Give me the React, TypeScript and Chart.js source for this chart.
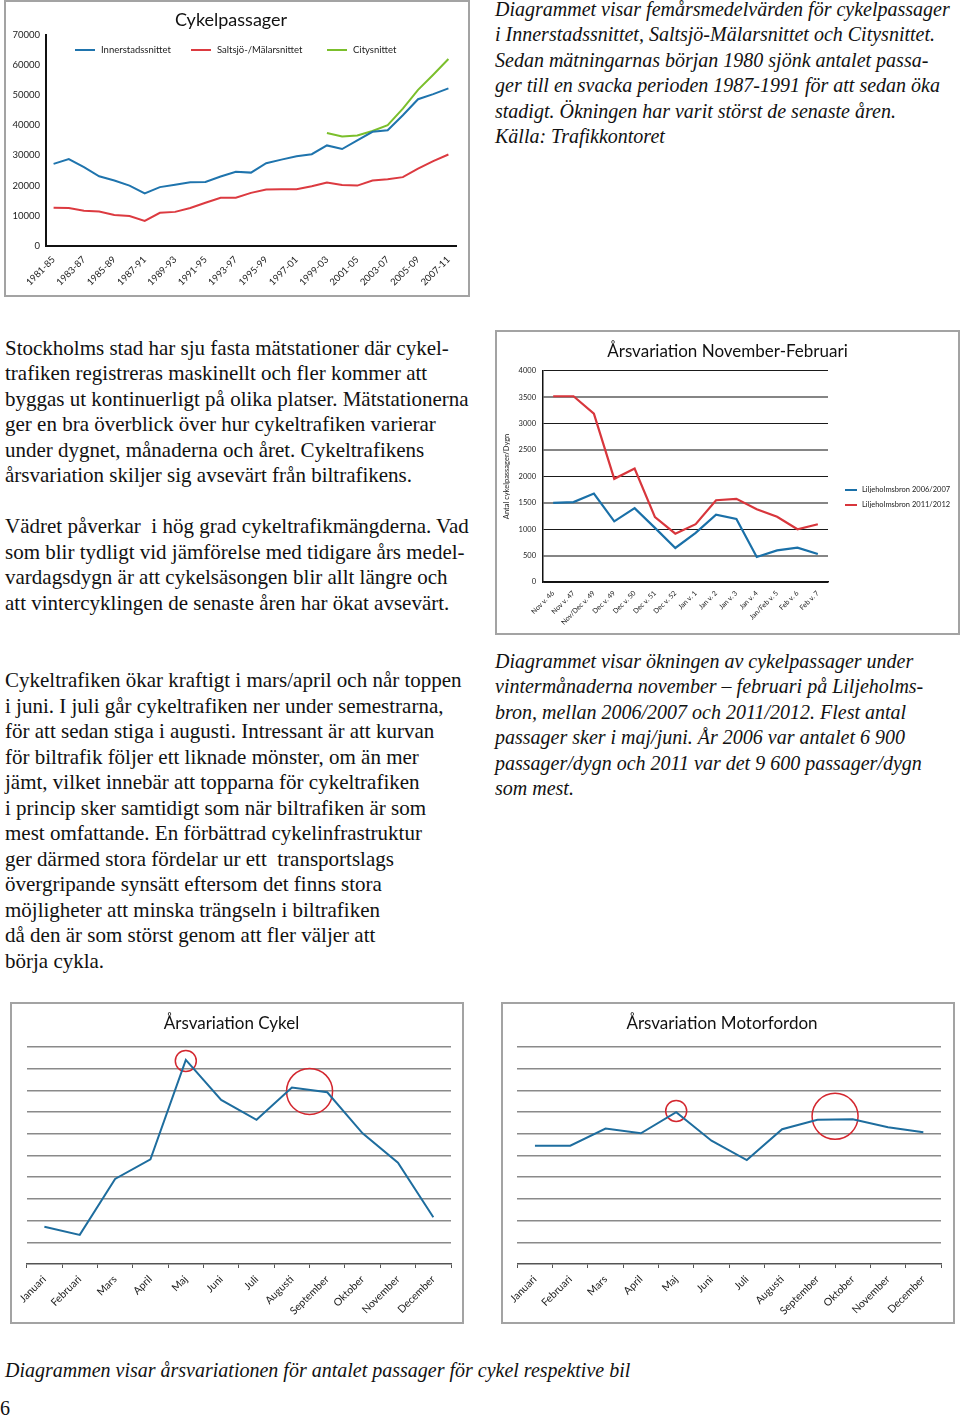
import React, { useEffect, useRef } from 'react';
import { Chart, registerables } from 'chart.js';
Chart.register(...registerables);

// ---------- DATA ----------
const periodLabels = ['1981-85', '1982-86', '1983-87', '1984-88', '1985-89', '1986-90', '1987-91', '1988-92', '1989-93', '1990-94', '1991-95', '1992-96', '1993-97', '1994-98', '1995-99', '1996-00', '1997-01', '1998-02', '1999-03', '2000-04', '2001-05', '2002-06', '2003-07', '2004-08', '2005-09', '2006-10', '2007-11'];
const innerstadValues = [27200, 28800, 26100, 23100, 21700, 20000, 17400, 19500, 20300, 21100, 21200, 23000, 24600, 24300, 27400, 28600, 29700, 30400, 33300, 32100, 35000, 37800, 38300, 43300, 48600, 50300, 52200];
const saltsjoValues = [12700, 12600, 11700, 11400, 10300, 9900, 8300, 11000, 11300, 12600, 14300, 16000, 16000, 17600, 18700, 18800, 18800, 19800, 21000, 20200, 20000, 21700, 22100, 22800, 25600, 28100, 30300];
const cityValues = [null, null, null, null, null, null, null, null, null, null, null, null, null, null, null, null, null, null, 37400, 36300, 36600, 38100, 40000, 45500, 51700, 56700, 61900];
const topYTicks = [0, 10000, 20000, 30000, 40000, 50000, 60000, 70000];

const weekLabels = ['Nov v. 46', 'Nov v. 47', 'Nov/Dec v. 49', 'Dec v. 49', 'Dec v. 50', 'Dec v. 51', 'Dec v. 52', 'Jan v. 1', 'Jan v. 2', 'Jan v. 3', 'Jan v. 4', 'Jan/Feb v. 5', 'Feb v. 6', 'Feb v. 7'];
const lilje0607 = [1500, 1515, 1675, 1150, 1400, 1025, 645, 930, 1275, 1195, 475, 600, 650, 530];
const lilje1112 = [3520, 3520, 3190, 1955, 2150, 1230, 915, 1095, 1550, 1575, 1380, 1235, 1000, 1095];

const monthLabels = ['Januari', 'Februari', 'Mars', 'April', 'Maj', 'Juni', 'Juli', 'Augusti', 'September', 'Oktober', 'November', 'December'];
const cykelValues = [1.72, 1.34, 3.92, 4.82, 9.4, 7.56, 6.64, 8.13, 7.91, 6.02, 4.67, 2.15];
const cykelMarkMonth = [4, 7.5];
const cykelMarkLevel = [9.35, 7.95];
const motorValues = [5.45, 5.45, 6.24, 6.02, 6.99, 5.68, 4.79, 6.21, 6.64, 6.67, 6.3, 6.07];
const motorMarkMonth = [4, 8.5];
const motorMarkLevel = [7.05, 6.8];

// ---------- TEXT ----------
const topRightLines = [
  'Diagrammet visar femårsmedelvärden för cykelpassager',
  'i Innerstadssnittet, Saltsjö-Mälarsnittet och Citysnittet.',
  'Sedan mätningarnas början 1980 sjönk antalet passa-',
  'ger till en svacka perioden 1987-1991 för att sedan öka',
  'stadigt. Ökningen har varit störst de senaste åren.',
  'Källa: Trafikkontoret',
];
const leftLinesA = [
  'Stockholms stad har sju fasta mätstationer där cykel-',
  'trafiken registreras maskinellt och fler kommer att',
  'byggas ut kontinuerligt på olika platser. Mätstationerna',
  'ger en bra överblick över hur cykeltrafiken varierar',
  'under dygnet, månaderna och året. Cykeltrafikens',
  'årsvariation skiljer sig avsevärt från biltrafikens.',
  '',
  'Vädret påverkar  i hög grad cykeltrafikmängderna. Vad',
  'som blir tydligt vid jämförelse med tidigare års medel-',
  'vardagsdygn är att cykelsäsongen blir allt längre och',
  'att vintercyklingen de senaste åren har ökat avsevärt.',
];
const leftLinesB = [
  'Cykeltrafiken ökar kraftigt i mars/april och når toppen',
  'i juni. I juli går cykeltrafiken ner under semestrarna,',
  'för att sedan stiga i augusti. Intressant är att kurvan',
  'för biltrafik följer ett liknade mönster, om än mer',
  'jämt, vilket innebär att topparna för cykeltrafiken',
  'i princip sker samtidigt som när biltrafiken är som',
  'mest omfattande. En förbättrad cykelinfrastruktur',
  'ger därmed stora fördelar ur ett  transportslags',
  'övergripande synsätt eftersom det finns stora',
  'möjligheter att minska trängseln i biltrafiken',
  'då den är som störst genom att fler väljer att',
  'börja cykla.',
];
const rightMidLines = [
  'Diagrammet visar ökningen av cykelpassager under',
  'vintermånaderna november – februari på Liljeholms-',
  'bron, mellan 2006/2007 och 2011/2012. Flest antal',
  'passager sker i maj/juni. År 2006 var antalet 6 900',
  'passager/dygn och 2011 var det 9 600 passager/dygn',
  'som mest.',
];
const captionText = 'Diagrammen visar årsvariationen för antalet passager för cykel respektive bil';
const pageNumber = '6';

// ---------- STYLE ----------
const SANS = 'Lato, "Open Sans", "DejaVu Sans", sans-serif';
const SERIF = '"Liberation Serif", "Times New Roman", serif';
const BLUE = '#1f74ad';
const RED = '#dc3a40';
const GREEN = '#7bbf2c';
const CIRCLE_RED = '#d3272f';
Chart.defaults.font.family = SANS;

const lineLegendPlugin = {
  id: 'lineLegend',
  afterDraw(chart: any, _args: any, opts: any) {
    if (!opts || !opts.items) return;
    const ctx = chart.ctx;
    ctx.save();
    ctx.font = opts.font;
    ctx.textBaseline = 'middle';
    ctx.textAlign = 'left';
    opts.items.forEach((it: any) => {
      const ds = chart.data.datasets[it.dataset];
      ctx.strokeStyle = ds.borderColor;
      ctx.lineWidth = opts.lineWidth;
      ctx.beginPath();
      ctx.moveTo(it.x, it.y);
      ctx.lineTo(it.x + opts.lineLength, it.y);
      ctx.stroke();
      ctx.fillStyle = opts.color;
      ctx.fillText(ds.label, it.x + opts.lineLength + opts.gap, it.y);
    });
    ctx.restore();
  },
};

function ChartFrame({ left, top, width, height, make }: { left: number; top: number; width: number; height: number; make: () => any }) {
  const ref = useRef<HTMLCanvasElement>(null);
  useEffect(() => {
    const chart = new Chart(ref.current as HTMLCanvasElement, make());
    return () => chart.destroy();
  }, []);
  return (
    <div style={{ position: 'absolute', left, top, width, height, boxSizing: 'border-box', border: '2px solid #a3a3a3', background: '#fff' }}>
      <canvas ref={ref} width={width - 4} height={height - 4} style={{ display: 'block', width: width - 4, height: height - 4 }} />
    </div>
  );
}

function topConfig() {
  return {
    type: 'line',
    data: {
      labels: periodLabels,
      datasets: [
        { label: 'Innerstadssnittet', data: innerstadValues, borderColor: BLUE, backgroundColor: BLUE, borderWidth: 2, pointRadius: 0, tension: 0 },
        { label: 'Saltsjö-/Mälarsnittet', data: saltsjoValues, borderColor: RED, backgroundColor: RED, borderWidth: 2, pointRadius: 0, tension: 0 },
        { label: 'Citysnittet', data: cityValues, borderColor: GREEN, backgroundColor: GREEN, borderWidth: 2, pointRadius: 0, tension: 0 },
      ],
    },
    options: {
      animation: false,
      responsive: false,
      events: [],
      layout: { padding: { left: 0, right: 12, top: 0, bottom: 0 } },
      plugins: {
        legend: { display: false },
        tooltip: { enabled: false },
        title: { display: true, text: 'Cykelpassager', color: '#111', font: { size: 18, weight: 'normal' }, padding: { top: 7, bottom: 4 } },
        lineLegend: {
          font: `9.5px ${SANS}`, color: '#222', lineWidth: 2, lineLength: 20, gap: 6,
          items: [{ dataset: 0, x: 69, y: 48 }, { dataset: 1, x: 185, y: 48 }, { dataset: 2, x: 321, y: 48 }],
        },
      },
      scales: {
        x: {
          offset: true,
          grid: { display: false, drawTicks: false },
          border: { display: true, color: '#111', width: 2 },
          ticks: { autoSkip: false, minRotation: 45, maxRotation: 45, font: { size: 9.5 }, color: '#222', padding: 8, callback: (_v: any, i: number) => (i % 2 === 0 ? periodLabels[i] : '') },
          afterFit: (s: any) => { s.height = 49; },
        },
        y: {
          min: 0, max: 70000,
          afterBuildTicks: (s: any) => { s.ticks = topYTicks.map((v) => ({ value: v })); },
          grid: { display: false, drawTicks: false },
          border: { display: true, color: '#111', width: 2 },
          ticks: { font: { size: 9.5 }, color: '#222', padding: 6, callback: (v: any) => String(v) },
          afterFit: (s: any) => { s.width = 40; },
        },
      },
    },
    plugins: [lineLegendPlugin],
  };
}

function winterConfig() {
  return {
    type: 'line',
    data: {
      labels: weekLabels,
      datasets: [
        { label: 'Liljeholmsbron 2006/2007', data: lilje0607, borderColor: '#1a70a8', backgroundColor: '#1a70a8', borderWidth: 2.2, pointRadius: 0, tension: 0 },
        { label: 'Liljeholmsbron 2011/2012', data: lilje1112, borderColor: '#d8363c', backgroundColor: '#d8363c', borderWidth: 2.2, pointRadius: 0, tension: 0 },
      ],
    },
    options: {
      animation: false,
      responsive: false,
      events: [],
      layout: { padding: { left: 0, right: 0, top: 0, bottom: 0 } },
      plugins: {
        legend: { display: false },
        tooltip: { enabled: false },
        title: { display: true, text: 'Årsvariation November-Februari', color: '#111', font: { size: 17, weight: 'normal' }, padding: { top: 9.5, bottom: 9 } },
        lineLegend: {
          font: `7.5px ${SANS}`, color: '#222', lineWidth: 2, lineLength: 12, gap: 5,
          items: [{ dataset: 0, x: 348, y: 158 }, { dataset: 1, x: 348, y: 173 }],
        },
      },
      scales: {
        x: {
          offset: true,
          grid: { display: false, drawTicks: false },
          border: { display: true, color: '#111', width: 1.5 },
          ticks: { autoSkip: false, minRotation: 45, maxRotation: 45, font: { size: 7 }, color: '#222', padding: 7 },
          afterFit: (s: any) => { s.height = 51; },
        },
        y: {
          min: 0, max: 4000,
          ticks: { stepSize: 500, font: { size: 7.5 }, color: '#222', padding: 7, callback: (v: any) => String(v) },
          grid: {
            drawTicks: false,
            color: (c: any) => (c.tick && c.tick.value % 1000 === 0 ? '#1a1a1a' : '#858585'),
            lineWidth: (c: any) => (c.tick && c.tick.value % 1000 === 0 ? 1 : 2),
          },
          border: { display: true, color: '#111', width: 1.5 },
          title: { display: true, text: 'Antal cykelpassager/Dygn', color: '#222', font: { size: 7.5 }, padding: { top: 5.5, bottom: 0 } },
          afterFit: (s: any) => { s.width = 46; },
        },
        legendSpace: {
          type: 'linear', position: 'right', min: 0, max: 1,
          ticks: { display: false }, grid: { display: false, drawTicks: false }, border: { display: false },
          afterFit: (s: any) => { s.width = 130; },
        },
      },
    },
    plugins: [lineLegendPlugin],
  };
}

function yearConfig(title: string, values: number[], markMonth: number[], markLevel: number[], padRight: number, yWidth: number) {
  return {
    type: 'line',
    data: {
      labels: monthLabels,
      datasets: [
        { label: title, data: values, xAxisID: 'x', yAxisID: 'y', borderColor: '#1e6d9e', borderWidth: 2, pointRadius: 0, tension: 0 },
        {
          label: 'markering', xAxisID: 'x2', yAxisID: 'y', data: markMonth.map((m, i) => ({ x: m, y: markLevel[i] })),
          showLine: false, pointRadius: [10.5, 23], pointBorderColor: CIRCLE_RED, pointBackgroundColor: 'rgba(0,0,0,0)', pointBorderWidth: 1.5, clip: false,
        },
      ],
    },
    options: {
      animation: false,
      responsive: false,
      events: [],
      layout: { autoPadding: false, padding: { left: 0, right: padRight, top: 0, bottom: 0 } },
      plugins: {
        legend: { display: false },
        tooltip: { enabled: false },
        title: { display: true, text: title, color: '#111', font: { size: 17, weight: 'normal' }, padding: { top: 9.5, bottom: 13 } },
      },
      scales: {
        x: {
          type: 'category',
          offset: true,
          grid: { display: true, offset: true, drawOnChartArea: false, drawTicks: true, tickLength: 4, color: '#555', lineWidth: 1 },
          border: { display: true, color: '#555', width: 1.5 },
          ticks: { autoSkip: false, minRotation: 45, maxRotation: 45, font: { size: 10.5 }, color: '#222', padding: 5 },
          afterFit: (s: any) => { s.height = 58; },
        },
        x2: { type: 'linear', display: false, min: -0.5, max: 11.5 },
        y: {
          min: 0, max: 10,
          ticks: { display: false, stepSize: 1 },
          grid: { drawTicks: false, color: (c: any) => (c.tick && c.tick.value === 0 ? 'rgba(0,0,0,0)' : '#8a8a8a'), lineWidth: 1.5 },
          border: { display: false },
          afterFit: (s: any) => { s.width = yWidth; },
        },
      },
    },
  };
}

function TextBlock({ left, top, lines, italic, size = 20, lh = 25.5 }: { left: number; top: number; lines: string[]; italic?: boolean; size?: number; lh?: number }) {
  return (
    <div style={{ position: 'absolute', left, top, fontFamily: SERIF, fontSize: size, lineHeight: `${lh}px`, fontStyle: italic ? 'italic' : 'normal', color: '#111', whiteSpace: 'pre' }}>
      {lines.map((l, i) => (
        <div key={i} style={{ height: lh }}>{l || '\u00a0'}</div>
      ))}
    </div>
  );
}

export default function App() {
  return (
    <div style={{ position: 'absolute', left: 0, top: 0, width: 960, height: 1417, background: '#fff', overflow: 'hidden' }}>
      <ChartFrame left={4} top={0} width={466} height={297} make={topConfig} />
      <TextBlock left={495} top={-3.5} lines={topRightLines} italic />
      <TextBlock left={5} top={335.8} lines={leftLinesA} size={21} />
      <ChartFrame left={495} top={330} width={465} height={305} make={winterConfig} />
      <TextBlock left={5} top={668.1} lines={leftLinesB} size={21} />
      <TextBlock left={495} top={648.5} lines={rightMidLines} italic />
      <ChartFrame left={10} top={1002} width={454} height={322} make={() => yearConfig('Årsvariation Cykel', cykelValues, cykelMarkMonth, cykelMarkLevel, 11, 14.7)} />
      <ChartFrame left={501} top={1002} width={454} height={322} make={() => yearConfig('Årsvariation Motorfordon', motorValues, motorMarkMonth, motorMarkLevel, 12, 14.3)} />
      <TextBlock left={5} top={1357.5} lines={[captionText]} italic />
      <TextBlock left={0} top={1395.5} lines={[pageNumber]} />
    </div>
  );
}
